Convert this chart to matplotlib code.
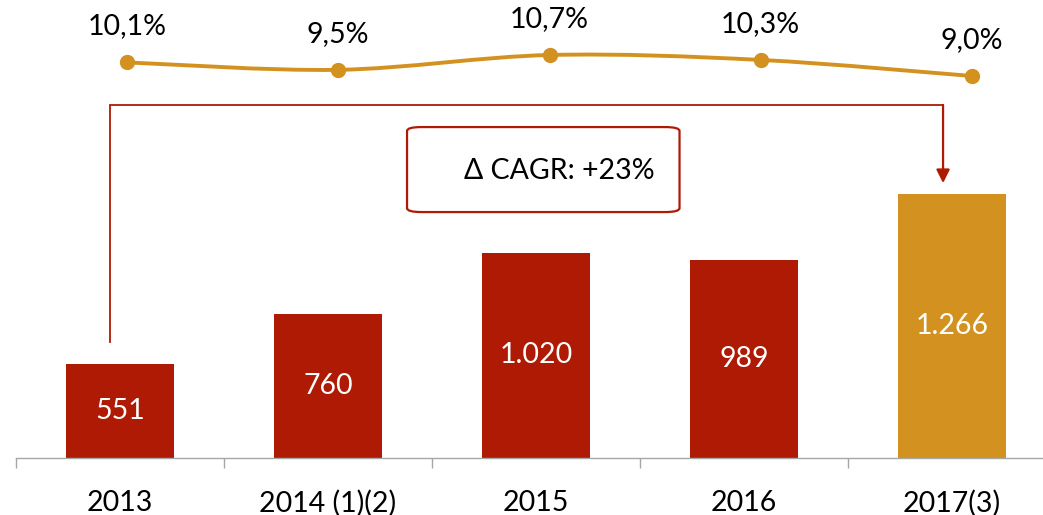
import matplotlib
matplotlib.use("Agg")
import matplotlib.pyplot as plt
from matplotlib.path import Path
from matplotlib.patches import PathPatch, FancyBboxPatch
import numpy as np

categories = ["2013", "2014 (1)(2)", "2015", "2016", "2017(3)"]
values = [551, 760, 1020, 989, 1266]
margins = [10.1, 9.5, 10.7, 10.3, 9.0]
cagr_label = "Δ CAGR: +23%"

RED = "#AE1A03"
GOLD = "#D3921F"
bar_colors = [RED, RED, RED, RED, GOLD]

plt.rcParams['font.family'] = ['Lato', 'DejaVu Sans']
FS = 20.5

W, H = 1043, 515
fig = plt.figure(figsize=(W / 100, H / 100), dpi=100)

# main bar axes
left_px, base_px, step_px = 16, 458, 208
ax = fig.add_axes([left_px / W, (H - base_px) / H, 5 * step_px / W, base_px / H])
ymin = 155
scale = 0.2374  # px per unit
ax.set_xlim(-0.5, 4.5)
ax.set_ylim(ymin, ymin + base_px / scale)
x = np.arange(len(categories))
bars = ax.bar(x, values, width=0.52, color=bar_colors, zorder=2)
ax.bar_label(bars, labels=[f"{v:,}".replace(",", ".") for v in values],
             label_type="center", color="white", fontsize=FS)

for s in ["top", "right", "left"]:
    ax.spines[s].set_visible(False)
ax.spines["bottom"].set_color("#A6A6A6")
ax.spines["bottom"].set_linewidth(1.0)
ax.set_yticks([])
ax.set_xticks(np.arange(-0.5, 5.0, 1.0))
ax.set_xticklabels([])
ax.tick_params(axis="x", which="major", direction="out", length=7, color="#A6A6A6", width=1)
ax.set_xticks(x, minor=True)
ax.set_xticklabels(categories, minor=True, fontsize=FS)
ax.tick_params(axis="x", which="minor", length=0, pad=23)

# connector arrow from 2013 to 2017
y_top = 1642
ax.plot([x[0] - 0.05, x[0] - 0.05, x[4] - 0.043], [values[0] + 93, y_top, y_top],
        color=RED, lw=1.3, solid_joinstyle="miter", zorder=3)
ax.annotate("", xy=(x[4] - 0.043, values[4] + 47), xytext=(x[4] - 0.043, y_top),
            arrowprops=dict(arrowstyle="-|>,head_length=0.8,head_width=0.4",
                            color=RED, lw=1.6, shrinkA=0, shrinkB=0))

# CAGR box
box = FancyBboxPatch((1.38, 1191), 2.69 - 1.38, 1549 - 1191,
                     boxstyle="round,pad=0,rounding_size=0.07",
                     mutation_aspect=(1549 - 1191) / (2.69 - 1.38) * 0.85,
                     fc="white", ec=RED, lw=1.6, zorder=3)
ax.add_patch(box)
ax.text(2.11, 1362, cagr_label, ha="center", va="center", fontsize=FS, zorder=4)

# line axes (full figure)
ax2 = fig.add_axes([0, 0, 1, 1], facecolor="none")
x0_px, dx_px = 127, 211.25
ax2.set_xlim(-x0_px / dx_px, (W - x0_px) / dx_px)
ref_v, ref_px, pxpu = 10.7, 55, 12.35
ax2.set_ylim(ref_v - (H - ref_px) / pxpu, ref_v + ref_px / pxpu)
ax2.axis("off")

pts = np.column_stack([x.astype(float), margins])
ext = np.vstack([pts[0], pts, pts[-1]])
verts = [tuple(pts[0])]
codes = [Path.MOVETO]
for i in range(len(pts) - 1):
    p0, p1, p2, p3 = ext[i], ext[i + 1], ext[i + 2], ext[i + 3]
    c1 = p1 + (p2 - p0) / 6
    c2 = p2 - (p3 - p1) / 6
    verts += [tuple(c1), tuple(c2), tuple(p2)]
    codes += [Path.CURVE4] * 3
ax2.add_patch(PathPatch(Path(verts, codes), fc="none", ec=GOLD, lw=2.8, zorder=2))
ax2.plot(x, margins, "o", color=GOLD, ms=10, zorder=3)
for xi, m in zip(x, margins):
    ax2.annotate(f"{m:.1f}".replace(".", ",") + "%", (xi, m), xytext=(0, 26),
                 textcoords="offset points", ha="center", va="center", fontsize=FS)

fig.savefig("out.png", dpi=100)
